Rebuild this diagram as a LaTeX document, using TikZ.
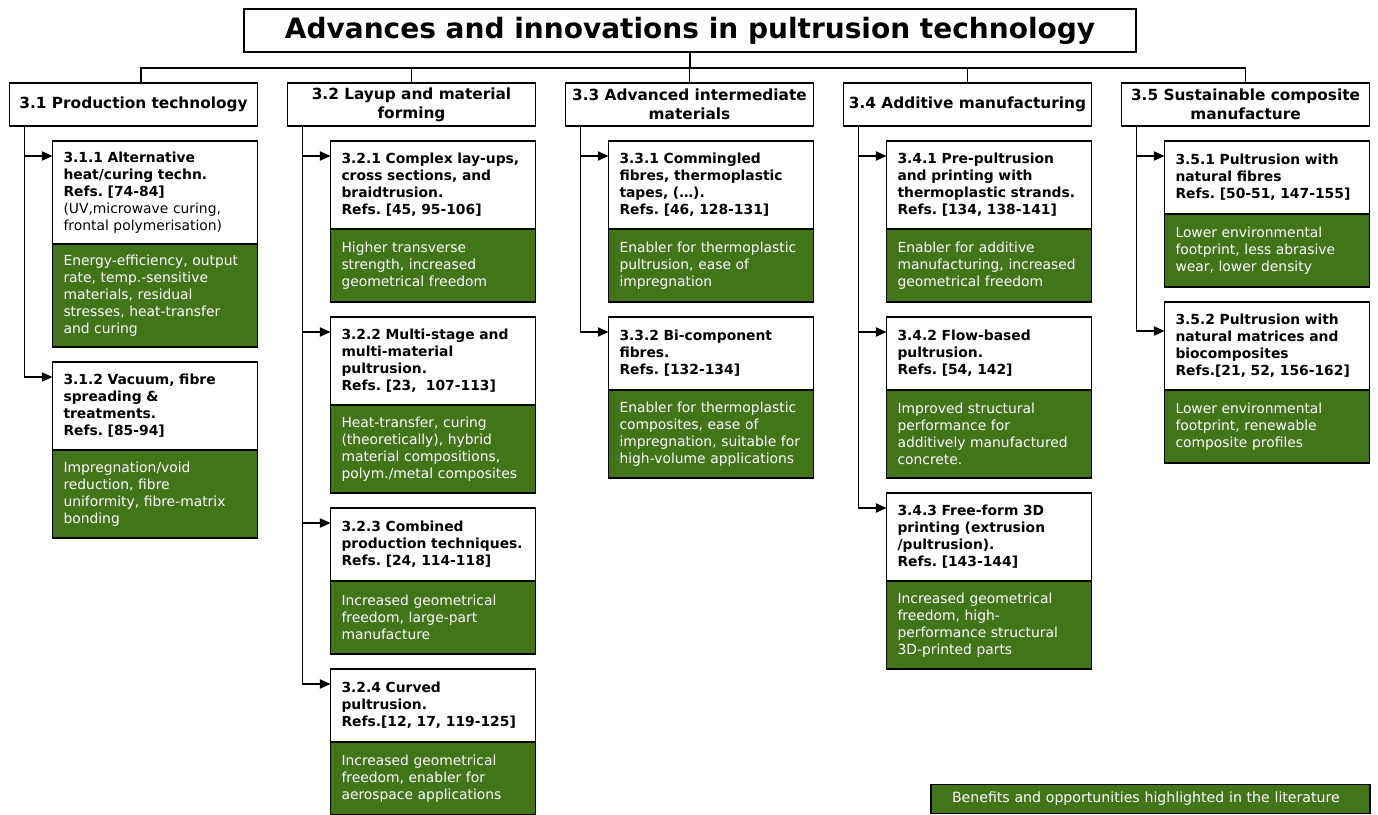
\documentclass[tikz,border=0pt]{standalone}
\usepackage{fontspec}
\setmainfont{DejaVu Sans}
\frenchspacing
\usetikzlibrary{positioning, arrows.meta}
\definecolor{benefit}{RGB}{66,117,26}
\tikzset{
>={Triangle[length=8pt, width=7pt]}, % filled heads on the branch arrows
node distance=11.25pt, % gap between two stacked boxes
every node/.style={outer sep=0pt},
title/.style={draw, minimum width=669pt, minimum height=32.25pt, font=\fontsize{21}{25}\selectfont\bfseries},
section/.style={draw, minimum width=186pt, minimum height=32.25pt, inner xsep=2pt, align=center, font=\fontsize{11.5}{14.25}\selectfont\bfseries},
head/.style={draw, fill=white, text width=137.25pt, inner xsep=8.25pt, inner ysep=2pt, minimum height={(15*#1+28)*0.75pt}, align=left, font=\fontsize{10.4}{12.75}\selectfont\bfseries}, % #1 = number of text lines
gain/.style={head=#1, fill=benefit, text=white, font=\fontsize{10.4}{12.75}\selectfont},
key/.style={draw, fill=benefit, text=white, minimum width=329.25pt, minimum height=21.75pt, text width=297.75pt, inner xsep=15.75pt, align=left, font=\fontsize{10.6}{12.75}\selectfont},
}

\begin{document}
\begin{tikzpicture}[x=0.75pt, y=-0.75pt, line width=0.8pt]
\useasboundingbox (0,0) rectangle (1378,814);

\node[title] (top) at (690,30.5) {Advances and innovations in pultrusion technology};
\node[section] (s1) at (133.5,104.5) {3.1 Production technology};
\node[section, right=22.5pt of s1] (s2) {3.2 Layup and material\\forming};
\node[section, right=22.5pt of s2] (s3) {3.3 Advanced intermediate\\materials};
\node[section, right=22.5pt of s3] (s4) {3.4 Additive manufacturing};
\node[section, right=22.5pt of s4] (s5) {3.5 Sustainable composite\\manufacture};

\coordinate (bus) at (690,68);
\draw (top.south) -- (bus);
\draw ([xshift=5.6pt]s1.north) |- (bus);
\draw (s2.north) |- (bus);
\draw (s3.north) |- (bus);
\draw (s4.north) |- (bus);
\draw (s5.north) |- (bus);

\node[head=5, below left=11.25pt and 0pt of s1.south east] (h11) {3.1.1 Alternative\\heat/curing techn.\\Refs. [74-84]\\{\mdseries (UV,microwave curing,}\\{\mdseries frontal polymerisation)}};
\node[gain=5, below=0pt of h11] (g11) {Energy-efficiency, output\\rate, temp.-sensitive\\materials, residual\\stresses, heat-transfer\\and curing};
\node[head=4, below=of g11] (h12) {3.1.2 Vacuum, fibre\\spreading \&\\treatments.\\Refs. [85-94]};
\node[gain=4, below=0pt of h12] (g12) {Impregnation/void\\reduction, fibre\\uniformity, fibre-matrix\\bonding};

\node[head=4, below left=11.25pt and 0pt of s2.south east] (h21) {3.2.1 Complex lay-ups,\\cross sections, and\\braidtrusion.\\Refs. [45, 95-106]};
\node[gain=3, below=0pt of h21] (g21) {Higher transverse\\strength, increased\\geometrical freedom};
\node[head=4, below=of g21] (h22) {3.2.2 Multi-stage and\\multi-material\\pultrusion.\\Refs. [23, ~107-113]};
\node[gain=4, below=0pt of h22] (g22) {Heat-transfer, curing\\(theoretically), hybrid\\material compositions,\\polym./metal composites};
\node[head=3, below=of g22] (h23) {3.2.3 Combined\\production techniques.\\Refs. [24, 114-118]};
\node[gain=3, below=0pt of h23] (g23) {Increased geometrical\\freedom, large-part\\manufacture};
\node[head=3, below=of g23] (h24) {3.2.4 Curved\\pultrusion.\\Refs.[12, 17, 119-125]};
\node[gain=3, below=0pt of h24] (g24) {Increased geometrical\\freedom, enabler for\\aerospace applications};

\node[head=4, below left=11.25pt and 0pt of s3.south east] (h31) {3.3.1 Commingled\\fibres, thermoplastic\\tapes, (…).\\Refs. [46, 128-131]};
\node[gain=3, below=0pt of h31] (g31) {Enabler for thermoplastic\\pultrusion, ease of\\impregnation};
\node[head=3, below=of g31] (h32) {3.3.2 Bi-component\\fibres.\\Refs. [132-134]};
\node[gain=4, below=0pt of h32] (g32) {Enabler for thermoplastic\\composites, ease of\\impregnation, suitable for\\high-volume applications};

\node[head=4, below left=11.25pt and 0pt of s4.south east] (h41) {3.4.1 Pre-pultrusion\\and printing with\\thermoplastic strands.\\Refs. [134, 138-141]};
\node[gain=3, below=0pt of h41] (g41) {Enabler for additive\\manufacturing, increased\\geometrical freedom};
\node[head=3, below=of g41] (h42) {3.4.2 Flow-based\\pultrusion.\\Refs. [54, 142]};
\node[gain=4, below=0pt of h42] (g42) {Improved structural\\performance for\\additively manufactured\\concrete.};
\node[head=4, below=of g42] (h43) {3.4.3 Free-form 3D\\printing (extrusion\\/pultrusion).\\Refs. [143-144]};
\node[gain=4, below=0pt of h43] (g43) {Increased geometrical\\freedom, high-\\performance structural\\3D-printed parts};

\node[head=3, below left=11.25pt and 0pt of s5.south east] (h51) {3.5.1 Pultrusion with\\natural fibres\\Refs. [50-51, 147-155]};
\node[gain=3, below=0pt of h51] (g51) {Lower environmental\\footprint, less abrasive\\wear, lower density};
\node[head=4, below=of g51] (h52) {3.5.2 Pultrusion with\\natural matrices and\\biocomposites\\Refs.[21, 52, 156-162]};
\node[gain=3, below=0pt of h52] (g52) {Lower environmental\\footprint, renewable\\composite profiles};

\coordinate (t1) at ([xshift=10.9pt]s1.south west);
\coordinate (t2) at ([xshift=10.9pt]s2.south west);
\coordinate (t3) at ([xshift=10.9pt]s3.south west);
\coordinate (t4) at ([xshift=10.9pt]s4.south west);
\coordinate (t5) at ([xshift=10.9pt]s5.south west);

\draw[->] (t1) |- ([yshift=-11.25pt]h11.north west);
\draw[->] (t1) |- ([yshift=-11.25pt]h12.north west);
\draw[->] (t2) |- ([yshift=-11.25pt]h21.north west);
\draw[->] (t2) |- ([yshift=-11.25pt]h22.north west);
\draw[->] (t2) |- ([yshift=-11.25pt]h23.north west);
\draw[->] (t2) |- ([yshift=-11.25pt]h24.north west);
\draw[->] (t3) |- ([yshift=-11.25pt]h31.north west);
\draw[->] (t3) |- ([yshift=-11.25pt]h32.north west);
\draw[->] (t4) |- ([yshift=-11.25pt]h41.north west);
\draw[->] (t4) |- ([yshift=-11.25pt]h42.north west);
\draw[->] (t4) |- ([yshift=-11.25pt]h43.north west);
\draw[->] (t5) |- ([yshift=-11.25pt]h51.north west);
\draw[->] (t5) |- ([yshift=-21.75pt]h52.north west);

\node[key, anchor=south east] (legend) at (1370,813.5) {Benefits and opportunities highlighted in the literature};
\end{tikzpicture}
\end{document}
